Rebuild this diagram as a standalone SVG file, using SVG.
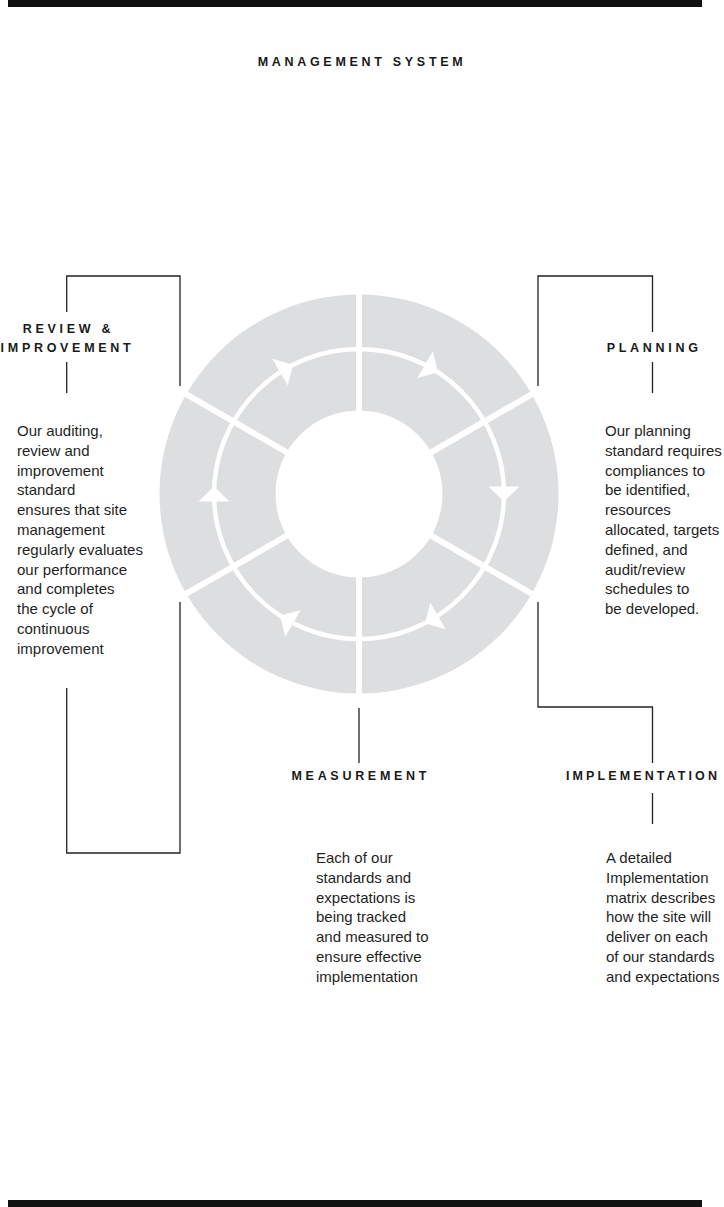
<svg xmlns="http://www.w3.org/2000/svg" width="724" height="1207" viewBox="0 0 724 1207">
  <style>
    .bar { fill: #111111; }
    .title, .label { font-family: "Liberation Sans", Arial, sans-serif; font-weight: bold; font-size: 12.5px; letter-spacing: 3.7px; fill: #1a1a1a; text-anchor: middle; }
    .body { font-family: "Liberation Sans", Arial, sans-serif; font-size: 15px; fill: #1f1f1f; }
    .lead { fill: none; stroke: #222222; stroke-width: 1.3; }
    .gap { stroke: #ffffff; stroke-width: 6; }
    .ring { fill: none; stroke: #ffffff; stroke-width: 4.5; }
    .head { fill: #ffffff; }
  </style>
  <defs>
    <polygon id="arrowhead" points="7.5,0 -7.5,-15.5 -7.5,15.5"/>
  </defs>

  <rect class="bar" x="8" y="0" width="694" height="7"/>
  <rect class="bar" x="8" y="1200" width="694" height="7"/>

  <text class="title" x="362" y="66">MANAGEMENT SYSTEM</text>

  <!-- cycle wheel: six grey segments, white ring with clockwise arrowheads -->
  <g id="wheel">
    <circle cx="359" cy="494" r="199.5" fill="#dddee0"/>
    <line class="gap" x1="359" y1="289" x2="359" y2="699"/>
    <line class="gap" x1="181.5" y1="391.5" x2="536.5" y2="596.5"/>
    <line class="gap" x1="181.5" y1="596.5" x2="536.5" y2="391.5"/>
    <circle cx="359" cy="494" r="83.5" fill="#ffffff"/>
    <circle class="ring" cx="359" cy="494" r="145"/>
    <use class="head" href="#arrowhead" transform="translate(431.5,368.4) rotate(30)"/>
    <use class="head" href="#arrowhead" transform="translate(504,494) rotate(90)"/>
    <use class="head" href="#arrowhead" transform="translate(431.5,619.6) rotate(150)"/>
    <use class="head" href="#arrowhead" transform="translate(286.5,619.6) rotate(210)"/>
    <use class="head" href="#arrowhead" transform="translate(214,494) rotate(270)"/>
    <use class="head" href="#arrowhead" transform="translate(286.5,368.4) rotate(330)"/>
  </g>

  <!-- leader lines from the wheel to each stage -->
  <g id="connectors">
    <path class="lead" d="M66.7,312 V276 H180 V386"/>
    <path class="lead" d="M66.7,362 V393"/>
    <path class="lead" d="M180,602 V853 H66.7 V688"/>
    <path class="lead" d="M538,386 V276 H652.5 V332"/>
    <path class="lead" d="M652.5,362 V393"/>
    <path class="lead" d="M538,602 V707 H652.5 V763"/>
    <path class="lead" d="M652.5,793 V824"/>
    <path class="lead" d="M359,708 V763"/>
  </g>

  <g id="review">
    <text class="label" x="68.5" y="333">REVIEW &amp;</text>
    <text class="label" x="67.5" y="352">IMPROVEMENT</text>
    <text class="body" x="17" y="436">
      <tspan x="17" dy="0">Our auditing,</tspan>
      <tspan x="17" dy="19.8">review and</tspan>
      <tspan x="17" dy="19.8">improvement</tspan>
      <tspan x="17" dy="19.8">standard</tspan>
      <tspan x="17" dy="19.8">ensures that site</tspan>
      <tspan x="17" dy="19.8">management</tspan>
      <tspan x="17" dy="19.8">regularly evaluates</tspan>
      <tspan x="17" dy="19.8">our performance</tspan>
      <tspan x="17" dy="19.8">and completes</tspan>
      <tspan x="17" dy="19.8">the cycle of</tspan>
      <tspan x="17" dy="19.8">continuous</tspan>
      <tspan x="17" dy="19.8">improvement</tspan>
    </text>
  </g>

  <g id="planning">
    <text class="label" x="654.2" y="352">PLANNING</text>
    <text class="body" x="605" y="436">
      <tspan x="605" dy="0">Our planning</tspan>
      <tspan x="605" dy="19.8">standard requires</tspan>
      <tspan x="605" dy="19.8">compliances to</tspan>
      <tspan x="605" dy="19.8">be identified,</tspan>
      <tspan x="605" dy="19.8">resources</tspan>
      <tspan x="605" dy="19.8">allocated, targets</tspan>
      <tspan x="605" dy="19.8">defined, and</tspan>
      <tspan x="605" dy="19.8">audit/review</tspan>
      <tspan x="605" dy="19.8">schedules to</tspan>
      <tspan x="605" dy="19.8">be developed.</tspan>
    </text>
  </g>

  <g id="measurement">
    <text class="label" x="360.8" y="780">MEASUREMENT</text>
    <text class="body" x="316" y="863">
      <tspan x="316" dy="0">Each of our</tspan>
      <tspan x="316" dy="19.8">standards and</tspan>
      <tspan x="316" dy="19.8">expectations is</tspan>
      <tspan x="316" dy="19.8">being tracked</tspan>
      <tspan x="316" dy="19.8">and measured to</tspan>
      <tspan x="316" dy="19.8">ensure effective</tspan>
      <tspan x="316" dy="19.8">implementation</tspan>
    </text>
  </g>

  <g id="implementation">
    <text class="label" x="566" y="780" style="text-anchor:start;letter-spacing:3.1px">IMPLEMENTATION</text>
    <text class="body" x="606" y="863">
      <tspan x="606" dy="0">A detailed</tspan>
      <tspan x="606" dy="19.8">Implementation</tspan>
      <tspan x="606" dy="19.8">matrix describes</tspan>
      <tspan x="606" dy="19.8">how the site will</tspan>
      <tspan x="606" dy="19.8">deliver on each</tspan>
      <tspan x="606" dy="19.8">of our standards</tspan>
      <tspan x="606" dy="19.8">and expectations</tspan>
    </text>
  </g>
</svg>
